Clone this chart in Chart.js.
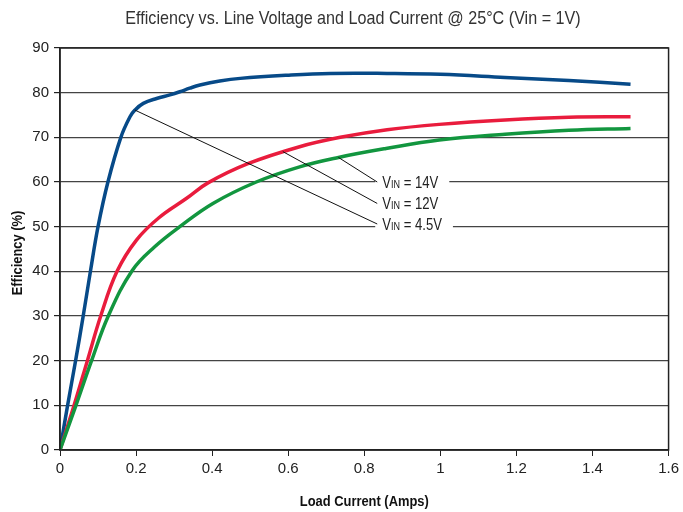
<!DOCTYPE html>
<html>
<head>
<meta charset="utf-8">
<script src="https://cdn.jsdelivr.net/npm/chart.js@4"></script>
<style>
  html, body { margin: 0; padding: 0; background: #ffffff; }
  #wrap { width: 683px; height: 512px; }
</style>
</head>
<body>
<div id="wrap"><canvas id="chart" width="683" height="512"></canvas></div>
<script>
// Efficiency curves (load current in A, efficiency in %)
const current45 = [0, 0.020, 0.041, 0.061, 0.080, 0.100, 0.126, 0.160, 0.184, 0.197, 0.219, 0.254, 0.289, 0.315, 0.341, 0.368, 0.42, 0.474, 0.597, 0.711, 0.86, 1.0, 1.17, 1.338, 1.5];
const eff45     = [0, 10, 20, 30, 40, 50, 60, 70, 74.6, 76.1, 77.6, 78.7, 79.5, 80.2, 81.0, 81.7, 82.6, 83.2, 83.9, 84.3, 84.3, 84.1, 83.4, 82.7, 81.9];

const current12 = [0, 0.037, 0.072, 0.107, 0.150, 0.201, 0.26, 0.332, 0.389, 0.494, 0.63, 0.737, 0.86, 0.997, 1.17, 1.338, 1.5];
const eff12     = [0, 10, 20, 30, 40, 47.0, 52.0, 56.3, 59.8, 64.1, 67.9, 70.0, 71.7, 72.9, 73.9, 74.5, 74.6];

const current14 = [0, 0.042, 0.083, 0.127, 0.190, 0.249, 0.315, 0.402, 0.516, 0.63, 0.732, 0.857, 0.997, 1.17, 1.338, 1.5];
const eff14     = [0, 10, 20, 30, 40.2, 45.5, 50.0, 55.2, 60.0, 63.4, 65.5, 67.5, 69.4, 70.7, 71.6, 72.0];

// Leader-line annotations: label text, point on curve, end point next to label
const leaderVolts = ['14V', '12V', '4.5V'];
const leaderFromX = [0.732, 0.586, 0.197];
const leaderFromY = [65.5, 66.8, 76.1];
const leaderToX = 0.834;
const leaderToY = [60.0, 55.2, 50.6];

const xTicks = [0, 0.2, 0.4, 0.6, 0.8, 1, 1.2, 1.4, 1.6];

const chartTitle = 'Efficiency vs. Line Voltage and Load Current @ 25\u00B0C (Vin = 1V)';
const xTitle = 'Load Current (Amps)';
const yTitle = 'Efficiency (%)';

const FONT = "'Liberation Sans', Arial, sans-serif";

const toPoints = (xs, ys) => xs.map((v, i) => ({ x: v, y: ys[i] }));

// draws text squeezed horizontally, to stand in for a condensed face
function narrowText(ctx, text, x, y, font, squeeze) {
    ctx.save();
    ctx.font = font;
    ctx.translate(x, y);
    ctx.scale(squeeze, 1);
    ctx.fillText(text, 0, 0);
    ctx.restore();
}

function textWidth(ctx, text, font, squeeze) {
    ctx.save();
    ctx.font = font;
    const w = ctx.measureText(text).width * squeeze;
    ctx.restore();
    return w;
}

const decorPlugin = {
    id: 'decor',
    beforeDraw(chart) {
        const { ctx } = chart;
        ctx.save();
        ctx.fillStyle = '#ffffff';
        ctx.fillRect(0, 0, chart.width, chart.height);
        ctx.restore();
    },
    afterDatasetsDraw(chart) {
        const { ctx, chartArea: area, scales: { x, y } } = chart;
        ctx.save();

        const big = '16px ' + FONT;
        const small = '11px ' + FONT;
        const sq = 0.82;

        // leader lines and labels
        leaderVolts.forEach((volts, i) => {
            const x0 = x.getPixelForValue(leaderFromX[i]);
            const y0 = y.getPixelForValue(leaderFromY[i]);
            const x1 = x.getPixelForValue(leaderToX);
            const y1 = y.getPixelForValue(leaderToY[i]);
            const rest = ' = ' + volts;

            const wV = textWidth(ctx, 'V', big, sq);
            const wIn = textWidth(ctx, 'IN', small, sq);
            const wRest = textWidth(ctx, rest, big, sq);

            ctx.fillStyle = '#ffffff';
            ctx.fillRect(x1 - 2, y1 - 8, wV + wIn + wRest + 18, 17);

            ctx.strokeStyle = '#111111';
            ctx.lineWidth = 1;
            ctx.beginPath();
            ctx.moveTo(x0, y0);
            ctx.lineTo(x1, y1);
            ctx.stroke();

            const tx = x1 + 5;
            const ty = y1 + 6;
            ctx.fillStyle = '#222222';
            ctx.textBaseline = 'alphabetic';
            ctx.textAlign = 'left';
            narrowText(ctx, 'V', tx, ty, big, sq);
            narrowText(ctx, 'IN', tx + wV, ty, small, sq);
            narrowText(ctx, rest, tx + wV + wIn, ty, big, sq);
        });

        // frame round the plot area
        ctx.strokeStyle = '#222222';
        ctx.lineWidth = 1.5;
        ctx.strokeRect(area.left, area.top, area.right - area.left, area.bottom - area.top);

        // titles
        ctx.textAlign = 'center';
        ctx.textBaseline = 'middle';
        ctx.fillStyle = '#333333';
        narrowText(ctx, chartTitle, 353, 19, '19px ' + FONT, 0.85);

        ctx.fillStyle = '#111111';
        narrowText(ctx, xTitle, (area.left + area.right) / 2, 502, 'bold 15px ' + FONT, 0.86);

        ctx.translate(18, (area.top + area.bottom) / 2 + 4);
        ctx.rotate(-Math.PI / 2);
        narrowText(ctx, yTitle, 0, 0, 'bold 15px ' + FONT, 0.86);
        ctx.restore();
    }
};

const lineStyle = color => ({
    borderColor: color,
    backgroundColor: color,
    borderWidth: 3.5,
    pointRadius: 0,
    fill: false,
    tension: 0.4
});

new Chart(document.getElementById('chart'), {
    type: 'line',
    data: {
        datasets: [
            { label: 'VIN = 14V', data: toPoints(current14, eff14), ...lineStyle('#12963f') },
            { label: 'VIN = 12V', data: toPoints(current12, eff12), ...lineStyle('#e91c3d') },
            { label: 'VIN = 4.5V', data: toPoints(current45, eff45), ...lineStyle('#074a88') }
        ]
    },
    options: {
        responsive: false,
        devicePixelRatio: 1,
        animation: false,
        parsing: false,
        layout: { padding: { top: 48, right: 13, bottom: 0, left: 0 } },
        plugins: {
            legend: { display: false },
            title: { display: false },
            tooltip: { enabled: false }
        },
        scales: {
            x: {
                type: 'linear',
                min: 0,
                max: 1.6,
                afterFit: s => { s.height = 62; },
                afterBuildTicks: s => { s.ticks = xTicks.map(v => ({ value: v })); },
                ticks: {
                    color: '#222222',
                    padding: 4,
                    maxRotation: 0,
                    font: { family: FONT, size: 15 },
                    callback: v => String(+Number(v).toFixed(1))
                },
                grid: {
                    drawOnChartArea: false,
                    drawTicks: true,
                    tickLength: 6,
                    color: '#222222',
                    lineWidth: 1
                },
                border: { display: true, color: '#222222', width: 1.5 }
            },
            y: {
                min: 0,
                max: 90,
                afterFit: s => { s.width = 60; },
                ticks: {
                    stepSize: 10,
                    color: '#222222',
                    padding: 5,
                    font: { family: FONT, size: 15 }
                },
                grid: {
                    color: '#444444',
                    lineWidth: 1.2,
                    tickLength: 6,
                    tickColor: '#222222'
                },
                border: { display: true, color: '#222222', width: 1.5 }
            }
        }
    },
    plugins: [decorPlugin]
});
</script>
</body>
</html>
